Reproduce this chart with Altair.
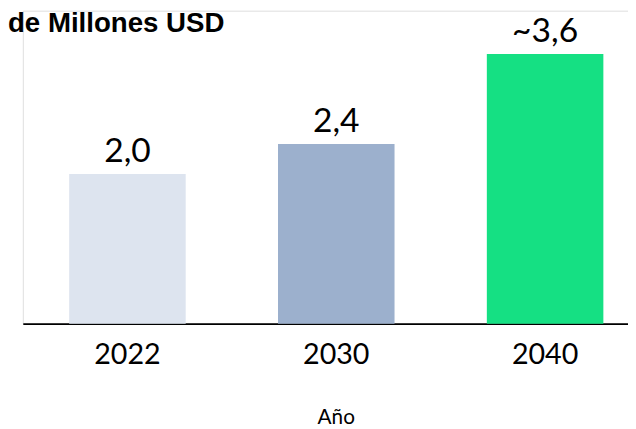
import altair as alt
import pandas as pd

years = ["2022", "2030", "2040"]
values = [2.0, 2.4, 3.6]
labels = ["2,0", "2,4", "~3,6"]
colors = ["#dde4ef", "#9cb0cd", "#15e083"]
title_text = "de Millones USD"

df = pd.DataFrame({"year": years, "value": values, "label": labels})

x = alt.X(
    "year:N",
    sort=years,
    scale=alt.Scale(paddingInner=0.442, paddingOuter=0.17, align=0.653),
    axis=alt.Axis(
        title="Año",
        labelAngle=0,
        labelFont="Lato",
        labelFontSize=29,
        labelColor="#000000",
        labelPadding=17,
        ticks=False,
        tickSize=0,
        domainColor="#000000",
        domainWidth=2,
        titleFont="Lato",
        titleFontSize=21,
        titleFontWeight="normal",
        titleColor="#000000",
        titleBaseline="alphabetic",
        titleX=317,
        titleY=101,
        grid=False,
    ),
)
y = alt.Y("value:Q", scale=alt.Scale(domain=[0, 4.18], nice=False), axis=None)

base = alt.Chart(df)
bars = base.mark_bar().encode(
    x=x,
    y=y,
    color=alt.Color("year:N", scale=alt.Scale(domain=years, range=colors), legend=None),
)
text = base.mark_text(
    baseline="alphabetic", dy=-12, font="Lato", fontSize=34, color="#000000"
).encode(x=x, y=y, text="label:N")

title = alt.Chart(pd.DataFrame({"t": [title_text]})).mark_text(
    align="left",
    baseline="alphabetic",
    font="Liberation Sans",
    fontWeight="bold",
    fontSize=28,
    color="#000000",
).encode(text="t:N", x=alt.value(-15), y=alt.value(22))

chart = (
    alt.layer(bars, text, title)
    .properties(
        width=613,
        height=317,
        autosize=alt.AutoSizeParams(type="none"),
        padding={"left": 15, "top": 0, "right": 0, "bottom": 104},
    )
    .configure_view(stroke="transparent", strokeWidth=0)
    .configure(background="#ffffff")
)

chart.save("out.html", embed_options={"renderer": "svg", "actions": False})
